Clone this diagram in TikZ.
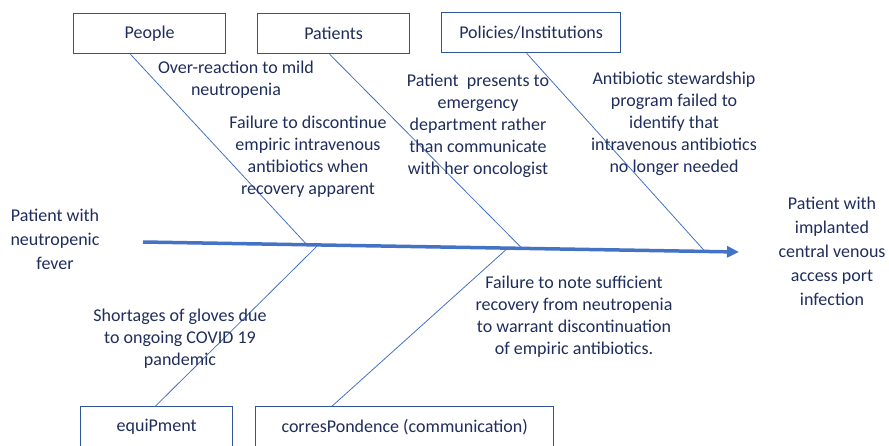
\documentclass[tikz,border=0pt]{standalone}
\usepackage{fontspec}
\setmainfont{Carlito}
\usetikzlibrary{arrows.meta,calc}
\definecolor{txtnavy}{HTML}{1F2D5C}
\definecolor{boxblue}{HTML}{2F5597}
\definecolor{bonblue}{HTML}{4472C4}
\begin{document}
\begin{tikzpicture}[x=1pt,y=-1pt,
  every node/.style={text=txtnavy,font=\fontsize{18}{22}\selectfont,inner sep=0pt},
  catbox/.style={draw=boxblue,line width=1.3pt,minimum height=40pt,anchor=north west,fill=white},
  cause/.style={align=center},
  endtext/.style={align=center,font=\fontsize{18}{24}\selectfont},
  spine/.style={draw=bonblue,line width=3.5pt,-{Triangle[length=12pt,width=11pt]}},
  bone/.style={draw=bonblue,line width=0.8pt}]
\useasboundingbox (0,0) rectangle (889,445);
\clip (0,0) rectangle (889,445);

% main axis
\coordinate (s0) at (143,242);
\coordinate (s1) at (739,252);
\path[spine] (s0) -- (s1);

% category boxes
\node[catbox,minimum width=152pt] (people) at (73,13) {People};
\node[catbox,minimum width=152pt] (patients) at (257,13) {Patients};
\node[catbox,minimum width=179pt] (policies) at (441,12) {Policies/Institutions};
\node[catbox,minimum width=152pt,minimum height=41pt] (equip) at (80,406) {equiPment};
\node[catbox,minimum width=298pt,minimum height=41pt] (corres) at (255,406) {corresPondence (communication)};

% bones from boxes to the axis
\path[bone] ($(people.south west)!0.375!(people.south east)$) -- ($(s0)!0.275!(s1)$);
\path[bone] ($(patients.south west)!0.474!(patients.south east)$) -- ($(s0)!0.636!(s1)$);
\path[bone] ($(policies.south west)!0.475!(policies.south east)$) -- ($(s0)!0.943!(s1)$);
\path[bone] ($(equip.north west)!0.493!(equip.north east)$) -- ($(s0)!0.294!(s1)$);
\path[bone] ($(corres.north west)!0.258!(corres.north east)$) -- ($(s0)!0.612!(s1)$);

% problem and outcome
\node[endtext] (start) at (55,239) {Patient with\\neutropenic\\fever};
\node[endtext] (outcome) at (832,251) {Patient with\\implanted\\central venous\\access port\\infection};

% causes
\node[cause] (c1) at (236,80) {Over-reaction to mild\\neutropenia};
\node[cause] (c2) at (308,157) {Failure to discontinue\\empiric intravenous\\antibiotics when\\recovery apparent};
\node[cause] (c3) at (478,126) {Patient\ \ presents to\\emergency\\department rather\\than communicate\\with her oncologist};
\node[cause] (c4) at (674,124) {Antibiotic stewardship\\program failed to\\identify that\\intravenous antibiotics\\no longer needed};
\node[cause] (c5) at (574,317) {Failure to note sufficient\\recovery from neutropenia\\to warrant discontinuation\\of empiric antibiotics.};
\node[cause] (c6) at (180,339) {Shortages of gloves due\\to ongoing COVID 19\\pandemic};
\end{tikzpicture}
\end{document}
